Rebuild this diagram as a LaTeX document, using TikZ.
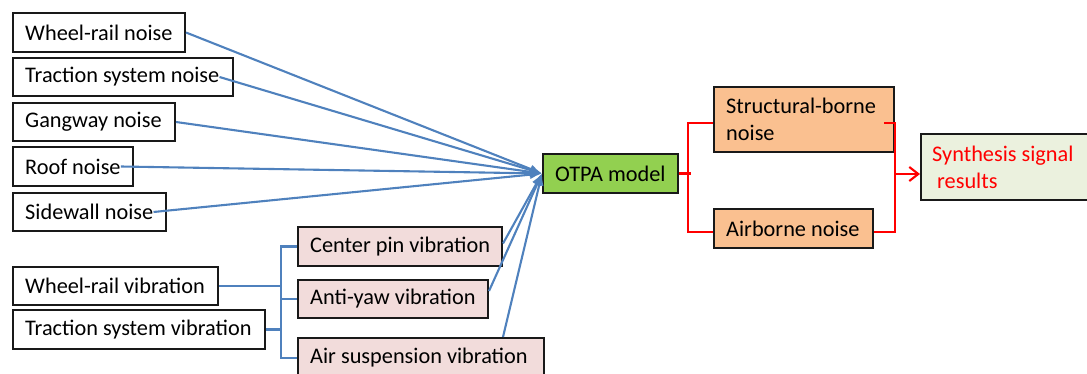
\documentclass[tikz,border=0pt]{standalone}
\usepackage{fontspec}
\setmainfont{Carlito}
\usetikzlibrary{arrows.meta,calc}
\definecolor{lblue}{RGB}{79,129,189}
\definecolor{orfill}{RGB}{250,192,144}
\definecolor{pkfill}{RGB}{242,220,219}
\definecolor{grfill}{RGB}{146,208,80}
\definecolor{ltfill}{RGB}{235,241,222}
\newcommand\mybox[7]{%
  \node[boxs, fill=#6, minimum width=#4pt, minimum height=#5pt, anchor=north west] (#1) at (#2,#3) {};
  \node[txt] (#1t) at ([xshift=13pt]#1.west) {#7};}
\begin{document}
\begin{tikzpicture}[x=1pt,y=-1pt,
  font=\fontsize{22.3}{27}\selectfont,
  boxs/.style={draw=black!90, line width=2pt, inner sep=0pt},
  txt/.style={anchor=west, inner sep=0pt, align=left},
  bl/.style={draw=lblue, line width=2.1pt, -{Latex[length=12pt,width=9pt]}},
  bll/.style={draw=lblue, line width=2.1pt},
  rdl/.style={draw=red, line width=2.1pt}]
\useasboundingbox (0,0) rectangle (1087,374);
\mybox{wrn}{12}{12}{172}{39}{white}{Wheel-rail noise}
\mybox{tsn}{12}{57}{220}{38}{white}{Traction system noise}
\mybox{gn}{12}{102}{162}{38}{white}{Gangway noise}
\mybox{rn}{12}{146}{120}{39}{white}{Roof noise}
\mybox{swn}{12}{192}{153}{38}{white}{Sidewall noise}
\mybox{wrv}{12}{266}{205}{38}{white}{Wheel-rail vibration}
\mybox{tsv}{12}{309}{252}{39}{white}{Traction system vibration}
\mybox{cpv}{297}{226}{204}{39}{pkfill}{Center pin vibration}
\mybox{ayv}{297}{279}{190}{38}{pkfill}{Anti-yaw vibration}
\mybox{asv}{297}{337}{246}{40}{pkfill}{Air suspension vibration}
\mybox{otpa}{542}{153}{135}{39}{grfill}{OTPA model}
\mybox{sbn}{713}{86}{180}{65}{orfill}{Structural-borne\\noise}
\mybox{abn}{713}{208}{159}{39}{orfill}{Airborne noise}
\node[boxs, fill=ltfill, minimum width=175pt, minimum height=66pt, anchor=north west] (ssr) at (920,133) {};
\node[txt, text=red] (ssrt) at ([xshift=12pt]ssr.west) {Synthesis signal\\\hspace{5pt}results};
% blue connectors
\draw[bl] (wrn.east) -- (otpa.west);
\draw[bl] (tsnt.east) -- (otpa.west);
\draw[bl] (gn.east) -- (otpa.west);
\draw[bl] (rnt.east) -- (otpa.west);
\draw[bl] (swnt.east) -- (otpa.west);
\draw[bl] ([yshift=3pt]cpv.east) -- (otpa.west);
\draw[bl] ([yshift=8pt]ayv.east) -- (otpa.west);
\draw[bl] ($(asv.north west)+(206,0)$) -- (otpa.west);
% blue bracket
\coordinate (vb) at (281,0);
\draw[bll] (wrv.east) -- (wrv.east -| vb);
\draw[bll] (tsv.east) -- (tsv.east -| vb);
\draw[bll] (cpv.west) -- (cpv.west -| vb) -- (asv.west -| vb) -- (asv.west);
\draw[bll] (ayv.west -| vb) -- (ayv.west);
% red bracket
\coordinate (rl) at (688,0);
\coordinate (rr) at (895,0);
\coordinate (s1) at ([yshift=-3.5pt]sbn.west);
\coordinate (a1) at ([yshift=-3.5pt]abn.west);
\coordinate (s2) at ([xshift=-11pt,yshift=-3.5pt]sbn.east);
\coordinate (a2) at ([yshift=-3.5pt]abn.east);
\coordinate (o1) at ($(otpa.east -| rl)+(3,0)$);
\coordinate (tg) at ([yshift=-7pt]ssr.west);
\draw[rdl] (otpa.east) -- (o1);
\draw[rdl] (s1) -- (s1 -| rl) -- (a1 -| rl) -- (a1);
\draw[rdl] (s2) -- (s2 -| rr) -- (a2 -| rr) -- (a2);
\draw[rdl, -{Straight Barb[length=9pt,width=14pt]}] (tg -| rr) -- (tg);
\end{tikzpicture}
\end{document}
